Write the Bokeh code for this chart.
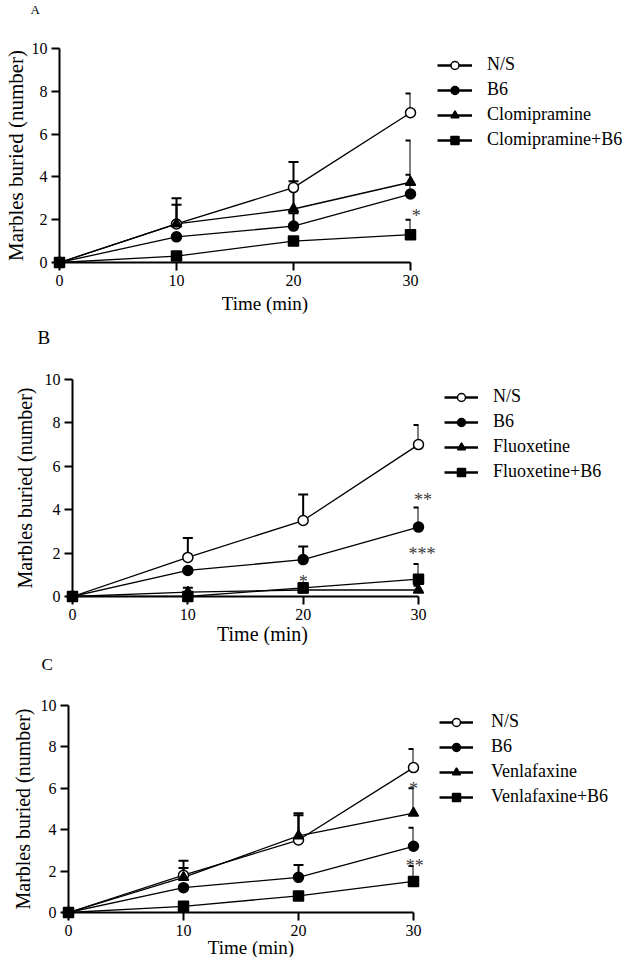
from bokeh.plotting import figure
from bokeh.models import (Range1d, FixedTicker, Whisker, TeeHead, ColumnDataSource,
                          Legend, LegendItem)
from bokeh.core.properties import value
from bokeh.embed import file_html
from bokeh.resources import INLINE

FONT = "Liberation Serif"
NAN = float("nan")

# ---------------- data ----------------
time_min = [0, 10, 20, 30]
x_ticks = [0, 10, 20, 30]
y_ticks = [0, 2, 4, 6, 8, 10]
x_label = "Time (min)"
y_label = "Marbles buried (number)"
panel_letters = ["A", "B", "C"]

# Panel A (Clomipramine)
a_labels = ["N/S", "B6", "Clomipramine", "Clomipramine+B6"]
a_ns_mean = [0, 1.8, 3.5, 7.0]
a_ns_sem = [0, 0.9, 1.2, 0.9]
a_b6_mean = [0, 1.2, 1.7, 3.2]
a_b6_sem = [0, 0, 0.6, 0.9]
a_drug_mean = [0, 1.8, 2.5, 3.75]
a_drug_sem = [0, 1.2, 1.3, 1.95]
a_combo_mean = [0, 0.3, 1.0, 1.3]
a_combo_sem = [0, 0, 0, 0.7]
a_star_x = [30.5]
a_star_y = [2.4]
a_star_text = ["*"]

# Panel B (Fluoxetine)
b_labels = ["N/S", "B6", "Fluoxetine", "Fluoxetine+B6"]
b_ns_mean = [0, 1.8, 3.5, 7.0]
b_ns_sem = [0, 0.9, 1.2, 0.9]
b_b6_mean = [0, 1.2, 1.7, 3.2]
b_b6_sem = [0, 0, 0.6, 0.9]
b_drug_mean = [0, 0.2, 0.3, 0.3]
b_drug_sem = [0, 0.2, 0, 0.2]
b_combo_mean = [0, 0, 0.4, 0.8]
b_combo_sem = [0, 0, 0, 0.7]
b_star_x = [20, 30.4, 30.3]
b_star_y = [0.9, 4.7, 2.2]
b_star_text = ["*", "**", "***"]

# Panel C (Venlafaxine)
c_labels = ["N/S", "B6", "Venlafaxine", "Venlafaxine+B6"]
c_ns_mean = [0, 1.8, 3.5, 7.0]
c_ns_sem = [0, 0.7, 1.2, 0.9]
c_b6_mean = [0, 1.2, 1.7, 3.2]
c_b6_sem = [0, 0, 0.6, 0.9]
c_drug_mean = [0, 1.7, 3.7, 4.8]
c_drug_sem = [0, 0.45, 1.1, 1.2]
c_combo_mean = [0, 0.3, 0.8, 1.5]
c_combo_sem = [0, 0, 0, 0.75]
c_star_x = [30, 30.1]
c_star_y = [6.2, 2.5]
c_star_text = ["*", "**"]

MARKERS = [("circle", "white"), ("circle", "black"), ("triangle", "black"), ("square", "black")]


def make_panel(letter, labels, means, sems, star_x, star_y, star_text, L):
    p = figure(width=L["bl"] + L["fw"] + L["br"], height=L["bt"] + L["fh"] + L["bb"],
               frame_width=L["fw"], frame_height=L["fh"],
               min_border_left=L["bl"], min_border_right=L["br"],
               min_border_top=L["bt"], min_border_bottom=L["bb"],
               x_range=Range1d(x_ticks[0], x_ticks[-1]),
               y_range=Range1d(y_ticks[0], y_ticks[-1]),
               output_backend="svg", toolbar_location=None)
    p.outline_line_color = None
    p.xgrid.visible = False
    p.ygrid.visible = False
    p.background_fill_color = "white"
    p.title.visible = False

    for ax, ticks in ((p.xaxis, x_ticks), (p.yaxis, y_ticks)):
        ax.ticker = FixedTicker(ticks=ticks)
        ax.axis_line_width = 2
        ax.axis_line_color = "black"
        ax.major_tick_line_width = 2
        ax.major_tick_line_color = "black"
        ax.major_tick_in = 0
        ax.major_tick_out = 8
        ax.minor_tick_line_color = None
        ax.major_label_text_font = FONT
        ax.major_label_text_font_size = "16px"
        ax.major_label_text_color = "black"
        ax.major_label_standoff = 4
        ax.axis_label_text_font = FONT
        ax.axis_label_text_font_style = "normal"
        ax.axis_label_text_color = "black"
    p.yaxis.axis_label = y_label
    p.yaxis.axis_label_text_font_size = L["yl_fs"]
    p.yaxis.axis_label_standoff = L["yl_so"]

    # error bars (upper only)
    for m, s in zip(means, sems):
        xs = [t for t, e in zip(time_min, s) if e > 0]
        lo = [v for v, e in zip(m, s) if e > 0]
        hi = [v + e for v, e in zip(m, s) if e > 0]
        src = ColumnDataSource(dict(x=xs, lo=lo, hi=hi))
        w = Whisker(base="x", lower="lo", upper="hi", source=src,
                    line_color="black", line_width=2,
                    lower_head=None,
                    upper_head=TeeHead(size=10, line_width=2, line_color="black"))
        p.add_layout(w)

    for m in means:
        p.line(time_min, m, line_color="black", line_width=1.3)

    items = []
    for lab, m, (mk, fc) in zip(labels, means, MARKERS):
        sc = p.scatter(time_min, m, marker=mk, size=10, fill_color=fc,
                       line_color="black", line_width=1.5, level="overlay")
        # legend-only line sample (thicker, draws nothing in the plot)
        lg = p.line(x=[NAN], y=[NAN], line_color="black", line_width=2.4)
        items.append(LegendItem(label=lab, renderers=[lg, sc]))

    p.text(x=star_x, y=star_y, text=star_text, text_font=value(FONT),
           text_font_size="18px", text_align="center", text_baseline="middle",
           y_offset=5, text_color="#3a3a3a", level="overlay")

    # panel letter, anchored at the top of the y axis and offset in pixels
    p.text(x=[x_ticks[0]], y=[y_ticks[-1]], text=[letter], text_font=value(FONT),
           text_font_size=L["let_fs"], text_align="left", text_baseline="top",
           x_offset=L["let_dx"], y_offset=L["let_dy"], text_color="black",
           level="overlay")

    # x-axis title (placed off-centre as in the original figure)
    p.text(x=[(x_ticks[0] + x_ticks[-1]) / 2], y=[y_ticks[0]], text=[x_label],
           text_font=value(FONT), text_font_size=L["xl_fs"], text_align="center",
           text_baseline="middle", x_offset=L["xl_dx"], y_offset=L["xl_dy"],
           text_color="black", level="overlay")

    leg = Legend(items=items, location=L["leg_loc"], padding=0, margin=0,
                 spacing=4, glyph_width=L["gw"], glyph_height=20, label_height=20,
                 label_standoff=L["lso"], label_text_font=FONT,
                 label_text_font_size="18px", label_text_color="black",
                 border_line_color=None, background_fill_alpha=0)
    p.add_layout(leg, "right")
    return p


LA = dict(bl=57, fw=351, br=217, bt=48, fh=214, bb=56,
          xl_fs="19px", xl_dx=30, xl_dy=41, yl_fs="21px", yl_so=1,
          leg_loc=(27, 112), gw=35, lso=15, let_dx=-29, let_dy=-47, let_fs="13px")
LB = dict(bl=72, fw=346, br=207, bt=61, fh=217, bb=49,
          xl_fs="20px", xl_dx=17, xl_dy=37, yl_fs="20px", yl_so=6,
          leg_loc=(26, 114), gw=34, lso=15, let_dx=-35, let_dy=-53, let_fs="19px")
LC = dict(bl=68, fw=345, br=212, bt=60, fh=207, bb=45,
          xl_fs="19px", xl_dx=10, xl_dy=35, yl_fs="20px", yl_so=4,
          leg_loc=(26, 105), gw=34, lso=18, let_dx=-27, let_dy=-51, let_fs="17px")

pa = make_panel(panel_letters[0], a_labels, [a_ns_mean, a_b6_mean, a_drug_mean, a_combo_mean],
                [a_ns_sem, a_b6_sem, a_drug_sem, a_combo_sem],
                a_star_x, a_star_y, a_star_text, LA)
pb = make_panel(panel_letters[1], b_labels, [b_ns_mean, b_b6_mean, b_drug_mean, b_combo_mean],
                [b_ns_sem, b_b6_sem, b_drug_sem, b_combo_sem],
                b_star_x, b_star_y, b_star_text, LB)
pc = make_panel(panel_letters[2], c_labels, [c_ns_mean, c_b6_mean, c_drug_mean, c_combo_mean],
                [c_ns_sem, c_b6_sem, c_drug_sem, c_combo_sem],
                c_star_x, c_star_y, c_star_text, LC)

open("out.html", "w").write(file_html([pa, pb, pc], INLINE))
